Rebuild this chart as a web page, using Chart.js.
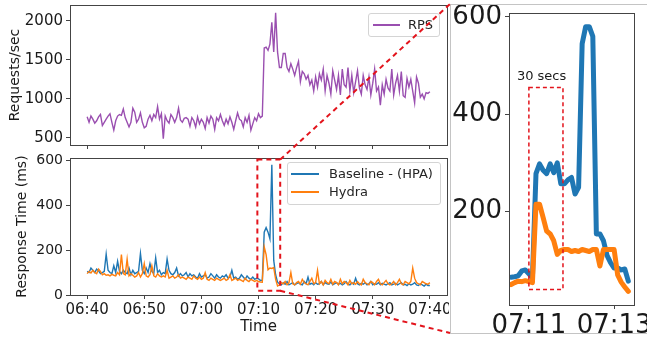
<!DOCTYPE html>
<html lang="en">
<head>
<meta charset="UTF-8" />
<title>RPS and response time, Baseline vs Hydra</title>
<script src="https://cdn.jsdelivr.net/npm/chart.js"></script>
<style>
  body { margin: 0; background: #fff; font-family: "DejaVu Sans", sans-serif; }
  #fig { position: relative; width: 647px; height: 339px; overflow: hidden; background: #fff; }
  #fig canvas { position: absolute; }
  #rpsCanvas { left: 0; top: 0; }
  #rtCanvas { left: 0; top: 150px; }
  #zoomBox { position: absolute; left: 450px; top: 4px; width: 210px; height: 328px;
             border: 1px solid #c4c4c4; background: #fff; }
  #zoomCanvas { left: 451px; top: 5px; }
  #guides { left: 0; top: 0; pointer-events: none; }
  .legend { position: absolute; background: rgba(255,255,255,0.85); border: 1px solid #d4d4d4;
            border-radius: 3px; font-size: 13px; color: #262626; }
  .legend .item { position: absolute; left: 0; height: 18px; line-height: 18px; white-space: nowrap; }
  .legend .swatch { position: absolute; left: 3px; top: 8px; width: 28px; height: 2px; }
  .legend .label { position: absolute; left: 41px; top: 0; }
</style>
</head>
<body>
<div id="fig">
  <canvas id="rpsCanvas" width="449" height="150"></canvas>
  <canvas id="rtCanvas" width="449" height="189"></canvas>
  <div id="zoomBox"></div>
  <canvas id="zoomCanvas" width="196" height="334"></canvas>

  <div class="legend" style="left:368px; top:13px; width:70px; height:22px;">
    <div class="item" style="top:2px;"><span class="swatch" style="background:#9a4fb0; left:4px; width:27px;"></span><span class="label" style="left:39px;">RPS</span></div>
  </div>
  <div class="legend" style="left:287px; top:162px; width:152px; height:41px;">
    <div class="item" style="top:2px;"><span class="swatch" style="background:#1f77b4;"></span><span class="label">Baseline - (HPA)</span></div>
    <div class="item" style="top:20px;"><span class="swatch" style="background:#ff7f0e;"></span><span class="label">Hydra</span></div>
  </div>

  <canvas id="guides" width="647" height="339"></canvas>
</div>

<script>
// samples every 20 s, starting 06:40 (x in minutes after 06:40)
const sampleStepMin = 1 / 3;

const rpsValues = [
  770,700,780,740,690,720,770,800,660,700,
  740,780,810,700,600,720,780,800,790,870,
  760,700,640,700,880,830,700,740,820,700,
  630,650,740,790,720,800,760,900,740,810,
  490,780,720,690,800,760,700,760,880,730,
  700,750,760,740,650,760,720,640,770,680,
  740,700,620,760,690,780,740,610,760,720,
  800,720,660,740,680,770,700,610,720,820,
  740,720,640,760,700,790,600,680,760,720,
  810,760,780,1650,1660,1620,1700,1980,1600,2100,
  1600,1400,1400,1580,1580,1400,1350,1450,1380,1300,
  1400,1480,1220,1350,1320,1250,1300,1180,1240,1100,
  1280,1150,1320,1240,1380,1100,1300,1200,1060,1360,
  1240,1120,1300,1050,1380,1180,1150,1400,1100,1300,
  1080,1220,1360,1140,1060,1300,1180,1120,1280,1050,
  1200,1380,1100,1150,920,1180,1060,1250,1140,1100,
  1380,1050,1200,1300,1100,1350,1040,1020,1260,1150,
  1250,1100,950,1280,1200,1020,1060,1000,1080,1070,
  1090
];

const baselineValues = [
  105,100,120,110,100,115,108,95,100,105,
  182,110,100,95,130,100,150,105,95,110,
  100,95,120,90,110,95,100,105,185,110,
  95,120,100,140,105,95,165,100,110,90,
  100,95,160,110,95,90,100,120,85,95,
  85,90,100,80,95,85,90,80,75,95,
  80,85,90,75,80,95,85,75,90,80,
  75,85,80,90,75,80,110,75,80,70,
  75,90,80,70,85,75,70,80,70,75,
  72,65,66,280,300,280,250,580,154,90,
  57,50,45,55,48,60,45,50,55,45,
  50,55,48,45,60,50,80,48,52,45,
  55,48,50,60,45,55,50,48,58,45,
  50,55,48,52,45,50,60,48,45,55,
  48,75,50,45,52,48,55,45,50,60,
  45,50,48,55,45,52,48,45,50,55,
  45,48,52,45,50,55,45,48,42,50,
  45,48,55,45,42,50,45,40,48,42,
  42
];

const hydraValues = [
  95,105,98,110,100,95,115,105,90,95,
  88,90,85,92,88,85,100,90,180,95,
  90,160,85,95,88,80,85,100,80,95,
  140,85,80,90,130,85,80,95,85,80,
  85,80,110,75,80,85,75,80,90,75,
  80,75,70,80,75,70,85,75,70,80,
  70,75,100,70,65,75,70,65,75,70,
  65,70,75,65,70,90,65,70,75,65,
  70,65,60,75,65,60,70,65,60,65,
  60,58,57,215,180,112,120,118,122,70,
  40,45,55,50,60,45,55,100,50,45,
  55,60,48,70,55,50,45,60,75,50,
  55,110,50,60,45,65,55,50,70,48,
  60,55,45,70,50,60,55,45,65,50,
  55,48,60,50,45,70,55,50,45,60,
  55,45,60,70,50,45,55,65,50,45,
  50,60,45,55,70,50,45,60,55,50,
  60,120,75,55,50,45,60,55,50,48,
  55
];

const mainTickMinutes = [0, 10, 20, 30, 40, 50, 60];
const mainTickLabels = ['06:40', '06:50', '07:00', '07:10', '07:20', '07:30', '07:40'];
const rpsTicks = [500, 1000, 1500, 2000];
const rtTicks = [0, 200, 400, 600];

// zoomed burst: samples every 5 s, x in seconds after 07:10
const zoomStartSec = 35;
const zoomStepSec = 5;
const zoomBaseline = [65,66,68,78,80,72,64,278,298,285,278,298,280,300,257,257,265,270,236,250,545,580,580,560,154,154,140,110,95,84,84,80,82,57];
const zoomHydra = [50,54,57,56,58,56,54,215,215,188,160,154,140,112,120,122,122,118,120,118,122,120,118,122,122,88,122,122,122,122,70,55,45,36];
const zoomTickSec = [60, 180];
const zoomTickLabels = ['07:11', '07:13'];
const zoomYTicks = [200, 400, 600];

// dashed annotations
const windowMin = [29.8, 33.8];
const windowMs = [19, 603];
const burstSec = [60, 108];
const burstMs = [40, 455];

const RED = '#e3141c';
const AXIS = '#444';
Chart.defaults.font.family = '"DejaVu Sans", sans-serif';
Chart.defaults.color = '#1a1a1a';

const toPoints = (vals, start, step) => vals.map((v, i) => ({ x: start + i * step, y: v }));
const plain = v => String(v);

function fixSize(size) {
  return function (scale) {
    if (scale.isHorizontal()) scale.height = size; else scale.width = size;
    scale.paddingLeft = scale.paddingRight = scale.paddingTop = scale.paddingBottom = 0;
  };
}

function setTicks(values) {
  return function (scale) { scale.ticks = values.map(v => ({ value: v })); };
}

const framePlugin = {
  id: 'frame',
  afterDraw(chart) {
    const { ctx, chartArea: a } = chart;
    ctx.save();
    ctx.strokeStyle = AXIS;
    ctx.lineWidth = 1;
    ctx.strokeRect(Math.round(a.left) + 0.5, Math.round(a.top) + 0.5,
      Math.round(a.right - a.left), Math.round(a.bottom - a.top));
    ctx.restore();
  }
};

const gridOpts = { drawOnChartArea: false, drawTicks: true, tickLength: 4, color: AXIS };

const baseOptions = {
  responsive: false,
  animation: false,
  plugins: { legend: { display: false }, tooltip: { enabled: false } },
  elements: { point: { radius: 0 }, line: { tension: 0 } }
};

// top: requests per second
const rpsChart = new Chart(document.getElementById('rpsCanvas'), {
  type: 'line',
  data: {
    datasets: [{
      label: 'RPS',
      data: toPoints(rpsValues, 0, sampleStepMin),
      borderColor: '#9a4fb0',
      borderWidth: 1.4
    }]
  },
  options: {
    ...baseOptions,
    layout: { padding: { top: 5, right: 2, left: 0, bottom: 0 } },
    scales: {
      x: {
        type: 'linear', min: -3, max: 63,
        afterBuildTicks: setTicks(mainTickMinutes),
        afterFit: fixSize(5),
        grid: gridOpts, border: { display: false },
        ticks: { callback: () => '' }
      },
      y: {
        min: 410, max: 2200,
        afterBuildTicks: setTicks(rpsTicks),
        afterFit: fixSize(70),
        grid: gridOpts, border: { display: false },
        ticks: { font: { size: 15 }, padding: 3, callback: plain },
        title: { display: true, text: 'Requests/sec', font: { size: 14 }, padding: { top: 7, bottom: 0 } }
      }
    }
  },
  plugins: [framePlugin]
});

// bottom: response time
const rtChart = new Chart(document.getElementById('rtCanvas'), {
  type: 'line',
  data: {
    datasets: [
      { label: 'Baseline - (HPA)', data: toPoints(baselineValues, 0, sampleStepMin),
        borderColor: '#1f77b4', borderWidth: 1.4, order: 1 },
      { label: 'Hydra', data: toPoints(hydraValues, 0, sampleStepMin),
        borderColor: '#ff7f0e', borderWidth: 1.4, order: 0 }
    ]
  },
  options: {
    ...baseOptions,
    layout: { padding: { top: 8, right: 2, left: 0, bottom: 0 } },
    scales: {
      x: {
        type: 'linear', min: -3, max: 63,
        afterBuildTicks: setTicks(mainTickMinutes),
        afterFit: fixSize(44),
        grid: gridOpts, border: { display: false },
        ticks: { font: { size: 15 }, padding: 2, maxRotation: 0, autoSkip: false,
                 callback: (v, i) => mainTickLabels[i] },
        title: { display: true, text: 'Time', font: { size: 15 }, padding: { top: 0, bottom: 3 } }
      },
      y: {
        min: 0, max: 610,
        afterBuildTicks: setTicks(rtTicks),
        afterFit: fixSize(70),
        grid: gridOpts, border: { display: false },
        ticks: { font: { size: 14 }, padding: 3, callback: plain },
        title: { display: true, text: 'Response Time (ms)', font: { size: 14 }, padding: { top: 14, bottom: 0 } }
      }
    }
  },
  plugins: [framePlugin]
});

// right: zoom on the burst
const burstPlugin = {
  id: 'burst',
  afterDraw(chart) {
    const { ctx, scales: { x, y } } = chart;
    const l = x.getPixelForValue(burstSec[0]), r = x.getPixelForValue(burstSec[1]);
    const t = y.getPixelForValue(burstMs[1]), b = y.getPixelForValue(burstMs[0]);
    ctx.save();
    ctx.strokeStyle = RED;
    ctx.lineWidth = 1.5;
    ctx.setLineDash([4, 3]);
    ctx.strokeRect(l, t, r - l, b - t);
    ctx.setLineDash([]);
    ctx.fillStyle = '#1a1a1a';
    ctx.font = '13px "DejaVu Sans", sans-serif';
    ctx.textAlign = 'left';
    ctx.textBaseline = 'bottom';
    ctx.fillText('30 secs', l - 12, t - 4);
    ctx.restore();
  }
};

const zoomChart = new Chart(document.getElementById('zoomCanvas'), {
  type: 'line',
  data: {
    datasets: [
      { label: 'Baseline - (HPA)', data: toPoints(zoomBaseline, zoomStartSec, zoomStepSec),
        borderColor: '#1f77b4', borderWidth: 5, borderJoinStyle: 'round', borderCapStyle: 'round', order: 1 },
      { label: 'Hydra', data: toPoints(zoomHydra, zoomStartSec, zoomStepSec),
        borderColor: '#ff7f0e', borderWidth: 5, borderJoinStyle: 'round', borderCapStyle: 'round', order: 0 }
    ]
  },
  options: {
    ...baseOptions,
    layout: { padding: { top: 8, right: 13, left: 0, bottom: 0 } },
    scales: {
      x: {
        type: 'linear', min: 32, max: 208,
        afterBuildTicks: setTicks(zoomTickSec),
        afterFit: fixSize(34),
        grid: gridOpts, border: { display: false },
        ticks: { font: { size: 26 }, padding: 2, maxRotation: 0, autoSkip: false,
                 callback: (v, i) => zoomTickLabels[i] }
      },
      y: {
        min: 8, max: 608,
        afterBuildTicks: setTicks(zoomYTicks),
        afterFit: fixSize(58),
        grid: gridOpts, border: { display: false },
        ticks: { font: { size: 26 }, padding: 3, callback: plain }
      }
    }
  },
  plugins: [framePlugin, burstPlugin]
});

// dashed window on the response chart and the guide lines to the zoom panel
function drawGuides() {
  const ctx = document.getElementById('guides').getContext('2d');
  const rtCanvas = document.getElementById('rtCanvas');
  const box = document.getElementById('zoomBox');
  const xs = rtChart.scales.x, ys = rtChart.scales.y;
  const offY = rtCanvas.offsetTop;
  const l = xs.getPixelForValue(windowMin[0]), r = xs.getPixelForValue(windowMin[1]);
  const t = ys.getPixelForValue(windowMs[1]) + offY, b = ys.getPixelForValue(windowMs[0]) + offY;
  const bx = box.offsetLeft;
  const bTop = box.offsetTop, bBot = box.offsetTop + box.offsetHeight - 1;

  ctx.strokeStyle = RED;
  ctx.lineWidth = 2;
  ctx.setLineDash([5, 4]);
  ctx.strokeRect(l, t, r - l, b - t);
  ctx.beginPath();
  ctx.moveTo(r, t); ctx.lineTo(bx, bTop);
  ctx.moveTo(r, b); ctx.lineTo(bx, bBot);
  ctx.stroke();
}
drawGuides();
</script>
</body>
</html>
